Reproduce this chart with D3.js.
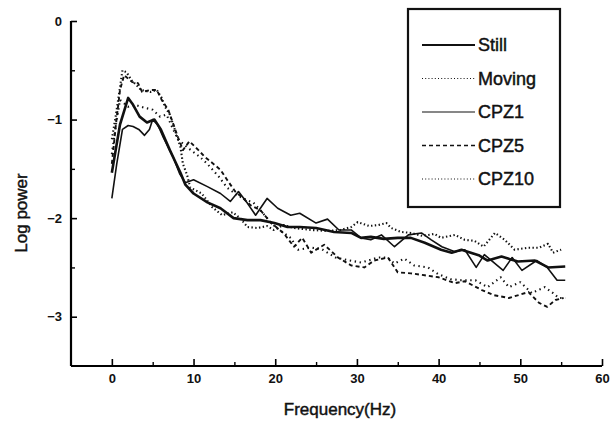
<!DOCTYPE html>
<html>
<head>
<meta charset="utf-8">
<script src="https://cdn.jsdelivr.net/npm/d3@7"></script>
<style>
  body { margin: 0; background: #fff; }
  text { font-family: "Liberation Sans", Arial, sans-serif; fill: #111; }
  .heavy { stroke: #111; stroke-width: 0.45px; }
</style>
</head>
<body>
<div id="graph"></div>
<script>
// values (Hz, log power)
const stillHz = [0, 1, 2, 2.6, 3.4, 4.3, 5.2, 6, 7.1, 8.4, 9, 10, 11.7, 13.3, 14.9, 16.6, 18.2, 19.9, 21.5, 23, 25, 27.2, 29.3, 30.5, 31.7, 33.3, 35, 36.6, 38.3, 40.3, 41.6, 42.8, 45, 46, 47.7, 49.7, 51.8, 53.4, 55.5]
const stillLog = [-1.54, -1.05, -0.78, -0.85, -0.97, -1.03, -1.0, -1.1, -1.31, -1.54, -1.66, -1.75, -1.84, -1.9, -2.0, -2.02, -2.02, -2.05, -2.09, -2.09, -2.1, -2.14, -2.15, -2.2, -2.19, -2.21, -2.2, -2.2, -2.25, -2.32, -2.35, -2.32, -2.38, -2.43, -2.39, -2.44, -2.43, -2.5, -2.49]

const movingHz = [0, 0.5, 1, 1.3, 1.8, 2.4, 3.6, 4.7, 5.5, 6.1, 6.5, 7.1, 7.7, 8.4, 8.7, 9.2, 9.6, 11, 12.3, 13.5, 14.8, 15.7, 16.6, 17.8, 19, 19.8, 21, 22.3, 24.4, 26.4, 28, 29.3, 30.1, 31.5, 32.6, 33.6, 34.2, 35.4, 36.6, 38, 39.5, 40.3, 42, 43.2, 44.4, 45.5, 46.9, 48.1, 49.3, 51, 52.3, 53.4, 54, 55]
const movingLog = [-1.2, -0.95, -0.67, -0.5, -0.52, -0.6, -0.7, -0.72, -0.7, -0.78, -0.87, -0.95, -1.1, -1.28, -1.45, -1.56, -1.69, -1.75, -1.89, -1.97, -1.94, -2.0, -2.09, -2.1, -2.08, -2.12, -2.07, -2.1, -2.12, -2.13, -2.12, -2.09, -2.04, -2.08, -2.07, -2.05, -2.1, -2.14, -2.15, -2.18, -2.16, -2.2, -2.17, -2.22, -2.23, -2.29, -2.15, -2.22, -2.32, -2.3, -2.3, -2.26, -2.35, -2.32]

const cpz1Hz = [0, 0.6, 1.3, 2, 2.6, 3.3, 4, 4.6, 5, 5.6, 6.3, 7.5, 8.3, 9, 10, 11.7, 13.3, 14.5, 15.5, 16.6, 17.6, 19, 20.3, 21.9, 23, 25, 26.4, 27.8, 29.3, 30.5, 31.7, 33, 34.6, 36.3, 37.9, 39.1, 40.4, 42, 43.2, 44.6, 45.6, 47.9, 49, 50.2, 52, 53.3, 54.5, 55.5]
const cpz1Log = [-1.8, -1.45, -1.1, -1.06, -1.07, -1.1, -1.16, -1.1, -1.0, -1.05, -1.18, -1.38, -1.55, -1.64, -1.61, -1.68, -1.75, -1.83, -1.73, -1.85, -1.97, -1.8, -1.9, -1.97, -1.95, -2.05, -2.01, -2.12, -2.12, -2.2, -2.22, -2.17, -2.29, -2.17, -2.15, -2.22, -2.29, -2.34, -2.32, -2.5, -2.37, -2.53, -2.4, -2.53, -2.43, -2.5, -2.63, -2.63]

const cpz5Hz = [0, 0.5, 1, 1.5, 2.5, 3.2, 3.7, 4.7, 5.5, 6.1, 6.9, 7.5, 8.1, 8.7, 9.5, 10.6, 11.4, 12.3, 13.3, 14.1, 15.1, 16.1, 17, 18.2, 19.5, 21, 22.3, 23.3, 24.4, 26, 27.7, 29.3, 30.9, 32.1, 33.8, 35, 36.6, 38.3, 40, 42, 43.2, 45.3, 46.7, 48.6, 49.8, 51, 52.3, 53.3, 54.3, 55.3]
const cpz5Log = [-1.45, -1.05, -0.7, -0.55, -0.62, -0.63, -0.72, -0.7, -0.7, -0.8, -0.9, -1.04, -1.18, -1.31, -1.22, -1.31, -1.38, -1.44, -1.51, -1.61, -1.73, -1.8, -1.87, -1.92, -2.05, -2.15, -2.29, -2.2, -2.35, -2.27, -2.4, -2.48, -2.5, -2.43, -2.4, -2.55, -2.56, -2.58, -2.6, -2.66, -2.64, -2.73, -2.78, -2.81, -2.78, -2.75, -2.86, -2.9, -2.83, -2.81]

const cpz10Hz = [0, 0.5, 1, 2, 2.8, 4, 5, 5.9, 6.7, 7.4, 8.1, 9.2, 10.8, 11.8, 13.1, 14.1, 15.4, 16.6, 17.3, 18.5, 19.5, 20.5, 21.9, 22.8, 24.4, 25.6, 27.4, 28.5, 30.5, 32.6, 33.7, 34.6, 35.8, 37, 38.7, 40, 41.5, 42.8, 44.5, 46, 47.6, 48.6, 50, 51.4, 53, 54, 54.7, 55.5]
const cpz10Log = [-1.35, -1.05, -0.8, -0.87, -0.85, -0.88, -0.9, -0.97, -0.95, -1.08, -1.2, -1.28, -1.38, -1.46, -1.58, -1.69, -1.77, -1.82, -1.84, -1.95, -2.05, -2.12, -2.2, -2.32, -2.3, -2.31, -2.4, -2.42, -2.45, -2.4, -2.4, -2.46, -2.41, -2.48, -2.5, -2.57, -2.62, -2.63, -2.63, -2.7, -2.6, -2.7, -2.65, -2.76, -2.7, -2.76, -2.81, -2.81]

const seriesNames = ['Still', 'Moving', 'CPZ1', 'CPZ5', 'CPZ10']
const xTicks = [0, 10, 20, 30, 40, 50, 60]
const yTicks = [0, -1, -2, -3]

const series = [
  { name: 'Still', hz: stillHz, val: stillLog, width: 2.6, dash: null },
  { name: 'Moving', hz: movingHz, val: movingLog, width: 2.1, dash: '1.4,2.4' },
  { name: 'CPZ1', hz: cpz1Hz, val: cpz1Log, width: 1.6, dash: null },
  { name: 'CPZ5', hz: cpz5Hz, val: cpz5Log, width: 1.9, dash: '4,3' },
  { name: 'CPZ10', hz: cpz10Hz, val: cpz10Log, width: 2.1, dash: '1.4,3.6' }
]

const W = 614, H = 421
const svg = d3.select('#graph').append('svg')
  .attr('width', W).attr('height', H)

const x = d3.scaleLinear().domain([-5, 60]).range([71, 602])
const y = d3.scaleLinear().domain([-3.5, 0]).range([366, 21])

// y axis, ticks pointing inward
const yAxis = svg.append('g').attr('transform', 'translate(71,0)')
  .call(d3.axisLeft(y).tickValues(yTicks).tickSize(-6).tickPadding(9).tickFormat(d3.format('d')))
yAxis.select('.domain').attr('d', `M0,${y(0)}V${y(-3.5)}`).attr('stroke-width', 2.2)
yAxis.selectAll('.tick line').attr('stroke-width', 1.6)
yAxis.selectAll('.tick text').style('font-size', '13px').style('font-weight', 'bold')
svg.append('g').attr('transform', 'translate(71,0)')
  .call(d3.axisLeft(y).tickValues([-0.5, -1.5, -2.5]).tickSize(-4).tickFormat(''))
  .call(g => g.select('.domain').remove())
  .selectAll('line').attr('stroke-width', 1.4)

// x axis
const xAxis = svg.append('g').attr('transform', 'translate(0,366)')
  .call(d3.axisBottom(x).tickValues(xTicks).tickSize(-7).tickPadding(8))
xAxis.select('.domain').attr('d', `M71,0H${x(60)}`).attr('stroke-width', 2.2)
xAxis.selectAll('.tick line').attr('stroke-width', 1.6)
xAxis.selectAll('.tick text').style('font-size', '13px').style('font-weight', 'bold')
svg.append('g').attr('transform', 'translate(0,366)')
  .call(d3.axisBottom(x).tickValues([5, 15, 25, 35, 45, 55]).tickSize(-4).tickFormat(''))
  .call(g => g.select('.domain').remove())
  .selectAll('line').attr('stroke-width', 1.4)

svg.append('text')
  .attr('class', 'heavy')
  .attr('transform', 'translate(27,213) rotate(-90)')
  .attr('text-anchor', 'middle')
  .style('font-size', '17px')
  .text('Log power')

svg.append('text')
  .attr('class', 'heavy')
  .attr('x', 340).attr('y', 415)
  .attr('text-anchor', 'middle')
  .style('font-size', '17px')
  .text('Frequency(Hz)')

// lines
const line = d3.line().x(d => x(d[0])).y(d => y(d[1]))
series.forEach(s => {
  svg.append('path')
    .datum(s.hz.map((f, i) => [f, s.val[i]]))
    .attr('fill', 'none')
    .attr('stroke', '#111')
    .attr('stroke-width', s.width)
    .attr('stroke-dasharray', s.dash)
    .attr('stroke-linejoin', 'round')
    .attr('d', line)
})

// legend
const legend = svg.append('g')
legend.append('rect')
  .attr('x', 408).attr('y', 9).attr('width', 152).attr('height', 198)
  .attr('fill', '#fff').attr('stroke', '#111').attr('stroke-width', 2.2)

const ly = d3.scalePoint().domain(seriesNames).range([45, 179])
series.forEach(s => {
  legend.append('line')
    .attr('x1', 422).attr('x2', 475)
    .attr('y1', ly(s.name)).attr('y2', ly(s.name))
    .attr('stroke', '#111')
    .attr('stroke-width', s.name === 'Still' ? 2 : (s.dash === '4,3' ? 1.5 : 1.2))
    .attr('stroke-dasharray', s.dash ? (s.dash === '4,3' ? '4,3' : '1,2.2') : null)
  legend.append('text')
    .attr('class', 'heavy')
    .attr('x', 478).attr('y', ly(s.name))
    .attr('dy', '0.36em')
    .style('font-size', '18px')
    .text(s.name)
})
</script>
</body>
</html>
